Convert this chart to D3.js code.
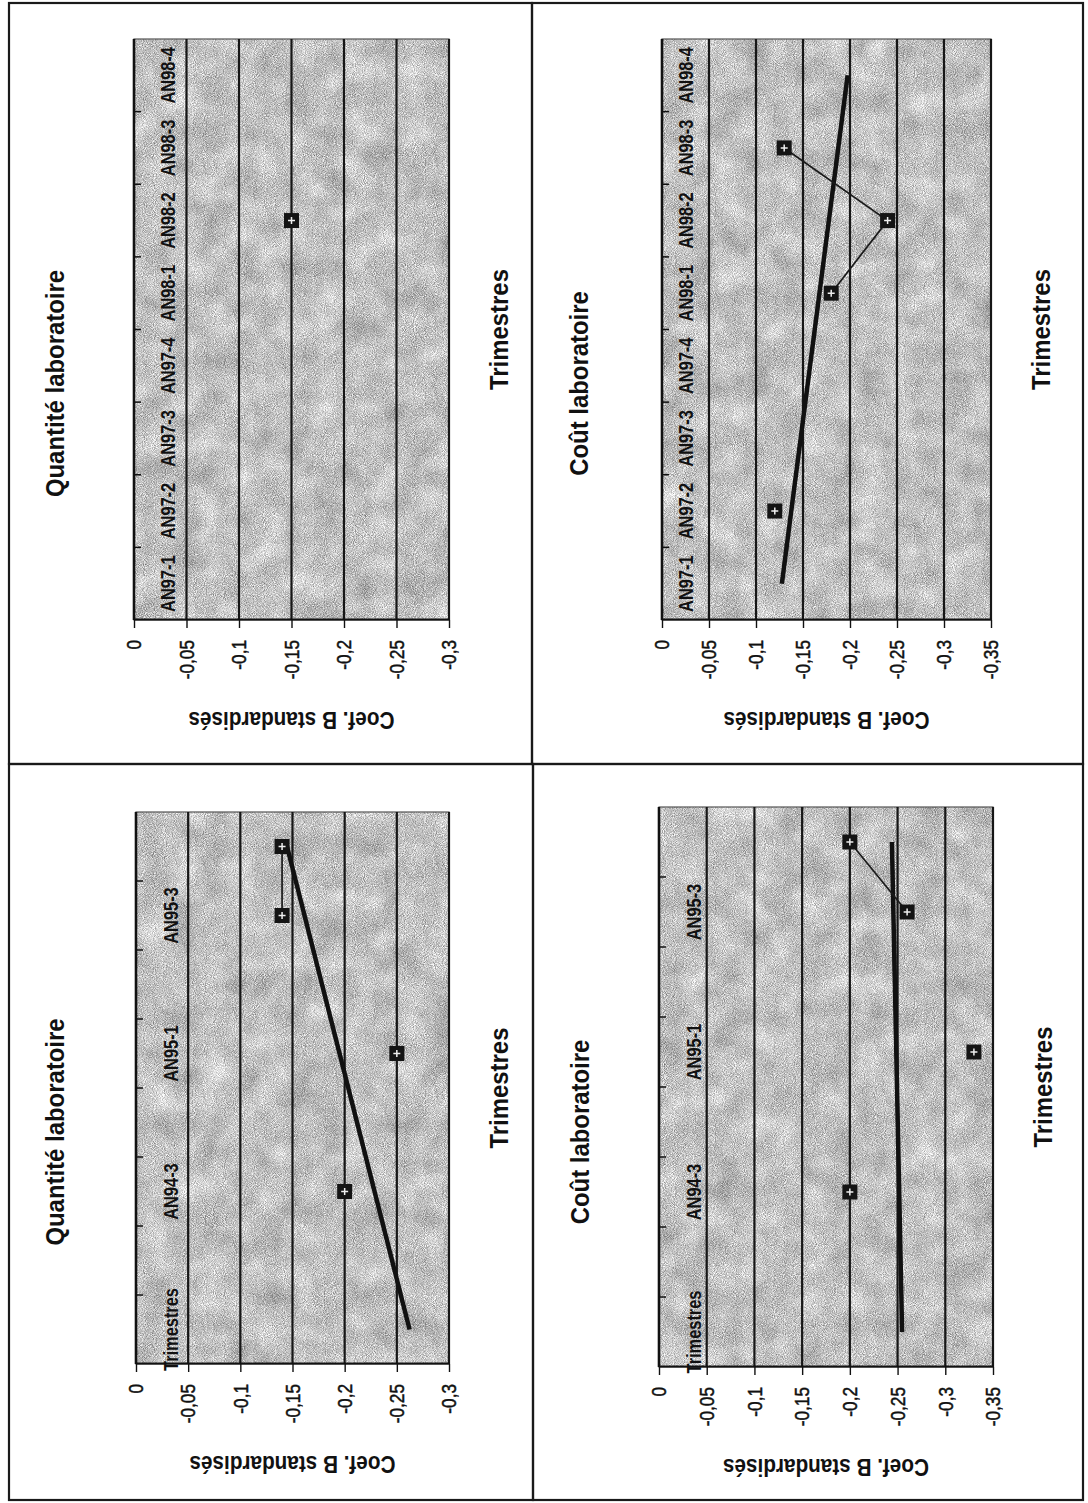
<!DOCTYPE html>
<html>
<head>
<meta charset="utf-8">
<script src="https://cdn.jsdelivr.net/npm/d3@7"></script>
<style>
  html, body { margin: 0; padding: 0; background: #fff; }
  svg { display: block; }
  text { font-family: "Liberation Sans", Arial, Helvetica, sans-serif; fill: #111; }
</style>
</head>
<body>
<svg id="page" width="1088" height="1503"></svg>
<script>
// Quarters shown on the category axes
const quarters9798 = ["AN97-1", "AN97-2", "AN97-3", "AN97-4", "AN98-1", "AN98-2", "AN98-3", "AN98-4"];
const quarters9495 = ["Trimestres", "AN94-2", "AN94-3", "AN94-4", "AN95-1", "AN95-2", "AN95-3", "AN95-4"];
const quarterLabels9495 = ["Trimestres", "AN94-3", "AN95-1", "AN95-3"];

// Standardized B coefficients per quarter (null = no value)
const quantite9798 = [null, null, null, null, null, -0.15, null, null];
const cout9798     = [null, -0.12, null, null, -0.18, -0.24, -0.13, null];
const quantite9495 = [null, null, -0.20, null, -0.25, null, -0.14, -0.14];
const cout9495     = [null, null, -0.20, null, -0.33, null, -0.26, -0.20];

// Value axis ticks and their labels
const ticks30 = [0, -0.05, -0.1, -0.15, -0.2, -0.25, -0.3];
const ticks35 = [0, -0.05, -0.1, -0.15, -0.2, -0.25, -0.3, -0.35];
const tickLabels30 = ["0", "-0,05", "-0,1", "-0,15", "-0,2", "-0,25", "-0,3"];
const tickLabels35 = ["0", "-0,05", "-0,1", "-0,15", "-0,2", "-0,25", "-0,3", "-0,35"];

// Page layout of the four panels (page pixel coordinates)
const panels = [
  { title: "Quantité laboratoire", cats: quarters9798, shown: quarters9798, values: quantite9798,
    ticks: ticks30, tickLabels: tickLabels30,
    frame: [9, 3, 532, 764], plot: [134, 39, 449, 620], titleX: 55, catBase: 41 },
  { title: "Coût laboratoire", cats: quarters9798, shown: quarters9798, values: cout9798,
    ticks: ticks35, tickLabels: tickLabels35,
    frame: [532, 3, 1083, 764], plot: [662, 39, 991, 620], titleX: 579, catBase: 31 },
  { title: "Quantité laboratoire", cats: quarters9495, shown: quarterLabels9495, values: quantite9495,
    ticks: ticks30, tickLabels: tickLabels30,
    frame: [9, 764, 533, 1500], plot: [136, 812, 449, 1364], titleX: 55, catBase: 42 },
  { title: "Coût laboratoire", cats: quarters9495, shown: quarterLabels9495, values: cout9495,
    ticks: ticks35, tickLabels: tickLabels35,
    frame: [533, 764, 1083, 1500], plot: [659, 807, 993, 1367], titleX: 580, catBase: 42 }
];

const svg = d3.select("#page");

// Speckled grey fill of the plot areas
const defs = svg.append("defs");
const grain = defs.append("filter").attr("id", "grain")
  .attr("x", 0).attr("y", 0).attr("width", 1).attr("height", 1)
  .attr("color-interpolation-filters", "sRGB");
grain.append("feTurbulence").attr("type", "fractalNoise").attr("baseFrequency", "1.1")
  .attr("numOctaves", 1).attr("seed", 7).attr("result", "fine");
grain.append("feTurbulence").attr("type", "fractalNoise").attr("baseFrequency", "0.035")
  .attr("numOctaves", 2).attr("seed", 3).attr("result", "coarse");
grain.append("feComposite").attr("in", "fine").attr("in2", "coarse").attr("operator", "arithmetic")
  .attr("k1", 0).attr("k2", 0.75).attr("k3", 0.25).attr("k4", 0).attr("result", "mix");
grain.append("feColorMatrix").attr("in", "mix").attr("type", "matrix")
  .attr("values", "1.15 0 0 0 0.18  1.15 0 0 0 0.18  1.15 0 0 0 0.18  0 0 0 0 1");

// Panel frames
panels.forEach(p => {
  const [x0, y0, x1, y1] = p.frame;
  svg.append("rect").attr("x", x0).attr("y", y0).attr("width", x1 - x0).attr("height", y1 - y0)
    .attr("fill", "none").attr("stroke", "#1a1a1a").attr("stroke-width", 2.2);
});

// Charts are laid out sideways: chart coordinate u = -pageY, v = pageX
const root = svg.append("g").attr("transform", "rotate(-90)");
const narrow = 0.82;

panels.forEach(p => {
  const [px0, py0, px1, py1] = p.plot;
  const g = root.append("g");

  const cat = d3.scaleBand().domain(p.cats).range([-py1, -py0]).paddingInner(0).paddingOuter(0);
  const bw = cat.bandwidth();
  const val = d3.scaleLinear().domain([0, p.ticks[p.ticks.length - 1]]).range([px0, px1]);
  const cx = c => cat(c) + bw / 2;

  // plot background
  g.append("rect").attr("x", -py1).attr("y", px0).attr("width", py1 - py0).attr("height", px1 - px0)
    .attr("fill", "#bdbdbd").attr("filter", "url(#grain)");
  g.append("rect").attr("x", -py1).attr("y", px0).attr("width", py1 - py0).attr("height", px1 - px0)
    .attr("fill", "none").attr("stroke", "#555").attr("stroke-width", 1.2);

  // horizontal gridlines
  g.append("g").selectAll("line").data(p.ticks.slice(1)).join("line")
    .attr("x1", -py1).attr("x2", -py0)
    .attr("y1", d => val(d)).attr("y2", d => val(d))
    .attr("stroke", "#161616").attr("stroke-width", 2.2);

  // value axis
  const ax = g.append("g").attr("transform", `translate(${-py1},0)`)
    .call(d3.axisLeft(val).tickValues(p.ticks).tickFormat((d, i) => p.tickLabels[i])
      .tickSize(8).tickSizeOuter(0).tickPadding(12));
  ax.select(".domain").attr("stroke", "#111").attr("stroke-width", 2.2);
  ax.selectAll(".tick line").attr("stroke", "#111").attr("stroke-width", 1.4);
  ax.selectAll(".tick text")
    .attr("x", -20 / narrow).attr("transform", `scale(${narrow},1)`)
    .style("font-size", "21px").style("font-family", "'Liberation Sans', Arial, sans-serif")
    .attr("fill", "#111").attr("stroke", "#111").attr("stroke-width", 0.5);

  // category axis at value 0
  g.append("line").attr("x1", -py1).attr("x2", -py0).attr("y1", val(0)).attr("y2", val(0))
    .attr("stroke", "#111").attr("stroke-width", 2.6);
  g.append("g").selectAll("line").data(p.cats.slice(1)).join("line")
    .attr("x1", d => cat(d)).attr("x2", d => cat(d))
    .attr("y1", val(0)).attr("y2", val(0) + 7)
    .attr("stroke", "#111").attr("stroke-width", 1.5);
  g.append("g").selectAll("text").data(p.shown).join("text")
    .attr("transform", d => `translate(${cx(d)},${val(0) + p.catBase}) scale(${narrow},1)`)
    .attr("text-anchor", "middle").style("font-size", "20px").style("font-weight", "bold")
    .text(d => d);

  const pts = p.cats.map((c, i) => ({ c, i, v: p.values[i] }));
  const known = pts.filter(d => d.v != null);

  // linear trend of the plotted coefficients
  if (known.length >= 2) {
    const mx = d3.mean(known, d => d.i + 1), my = d3.mean(known, d => d.v);
    const slope = d3.sum(known, d => (d.i + 1 - mx) * (d.v - my)) / d3.sum(known, d => (d.i + 1 - mx) ** 2);
    const fit = x => my + slope * (x - mx);
    const ends = [pts[0], pts[pts.length - 1]];
    g.append("line")
      .attr("x1", cx(ends[0].c)).attr("y1", val(fit(ends[0].i + 1)))
      .attr("x2", cx(ends[1].c)).attr("y2", val(fit(ends[1].i + 1)))
      .attr("stroke", "#111").attr("stroke-width", 4.5);
  }

  // series line between consecutive quarters
  g.append("path").datum(pts)
    .attr("d", d3.line().defined(d => d.v != null).x(d => cx(d.c)).y(d => val(d.v)))
    .attr("fill", "none").attr("stroke", "#1a1a1a").attr("stroke-width", 1.7);

  // square markers
  const m = g.append("g").selectAll("g").data(known).join("g")
    .attr("transform", d => `translate(${cx(d.c)},${val(d.v)})`);
  m.append("rect").attr("x", -7.5).attr("y", -7.5).attr("width", 15).attr("height", 15).attr("fill", "#141414");
  m.append("path").attr("d", "M-3.5,0H3.5M0,-3.5V3.5").attr("stroke", "#eee").attr("stroke-width", 1.5);

  // panel title
  const fy = (p.frame[1] + p.frame[3]) / 2;
  g.append("text")
    .attr("transform", `translate(${-fy},${p.titleX}) scale(0.92,1)`)
    .attr("dy", "0.36em").attr("text-anchor", "middle")
    .style("font-size", "26px").style("font-weight", "bold")
    .text(p.title);

  // category axis title
  g.append("text")
    .attr("transform", `translate(${-(py0 + py1) / 2},${px1 + 50}) scale(0.92,1)`)
    .attr("dy", "0.36em").attr("text-anchor", "middle")
    .style("font-size", "26px").style("font-weight", "bold")
    .text("Trimestres");

  // value axis title
  g.append("text")
    .attr("transform", `translate(${-(py1 + 100)},${(px0 + px1) / 2}) rotate(-90) scale(0.9,1)`)
    .attr("dy", "0.36em").attr("text-anchor", "middle")
    .style("font-size", "23px").style("font-weight", "bold")
    .text("Coef. B standardisés");
});
</script>
</body>
</html>
